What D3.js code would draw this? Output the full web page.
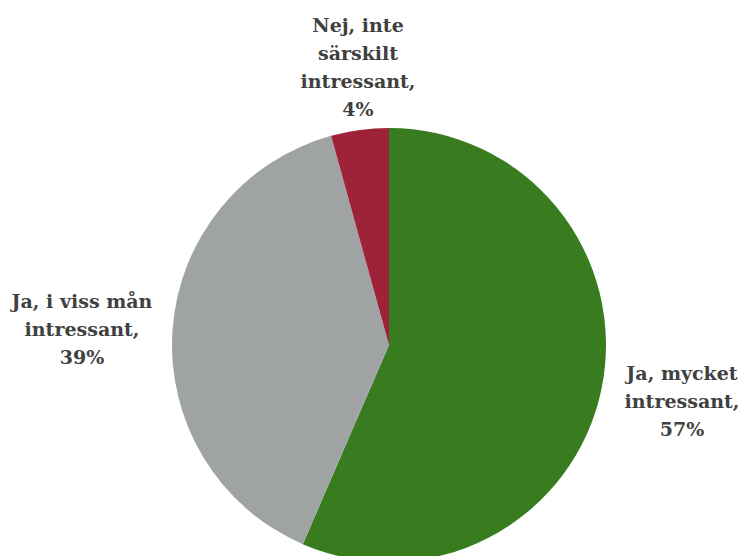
<!DOCTYPE html>
<html>
<head>
<meta charset="utf-8">
<script src="https://cdn.jsdelivr.net/npm/d3@7"></script>
<style>
  body { margin: 0; background: #fff; }
</style>
</head>
<body>
<div id="chart"></div>
<script>
var categories = ["Ja, mycket intressant", "Ja, i viss mån intressant", "Nej, inte särskilt intressant"]
var values = [56.5, 39.2, 4.3]
var colors = ["#387c1f", "#a0a3a4", "#9e2238"]
// label lines (without the percentage line)
var labelLines = [
    ["Ja, mycket", "intressant,"],
    ["Ja, i viss mån", "intressant,"],
    ["Nej, inte", "särskilt", "intressant,"]
]
var labelPos = [[682, 380], [82, 308], [358, 32]]

var width = 743,
    height = 556,
    cx = 389,
    cy = 345,
    r = 217,
    lineH = 28

var svg = d3.select("#chart")
    .append("svg")
    .attr("width", width)
    .attr("height", height)

var pie = d3.pie().sort(null).value(function (d) { return d })
var arc = d3.arc().innerRadius(0).outerRadius(r)

svg.append("g")
    .attr("transform", "translate(" + cx + "," + cy + ")")
    .selectAll("path")
    .data(pie(values))
    .enter()
    .append("path")
    .attr("d", arc)
    .attr("fill", function (d, i) { return colors[i] })

// labels
labelLines.forEach(function (lines, i) {
    var t = svg.append("text")
        .attr("text-anchor", "middle")
        .attr("font-family", "'DejaVu Serif', serif")
        .attr("font-weight", "bold")
        .attr("font-size", 19)
        .attr("fill", "#404040")
    var all = lines.concat([Math.round(values[i]) + "%"])
    all.forEach(function (s, j) {
        t.append("tspan")
            .attr("x", labelPos[i][0])
            .attr("y", labelPos[i][1] + j * lineH)
            .text(s)
    })
})
</script>
</body>
</html>
